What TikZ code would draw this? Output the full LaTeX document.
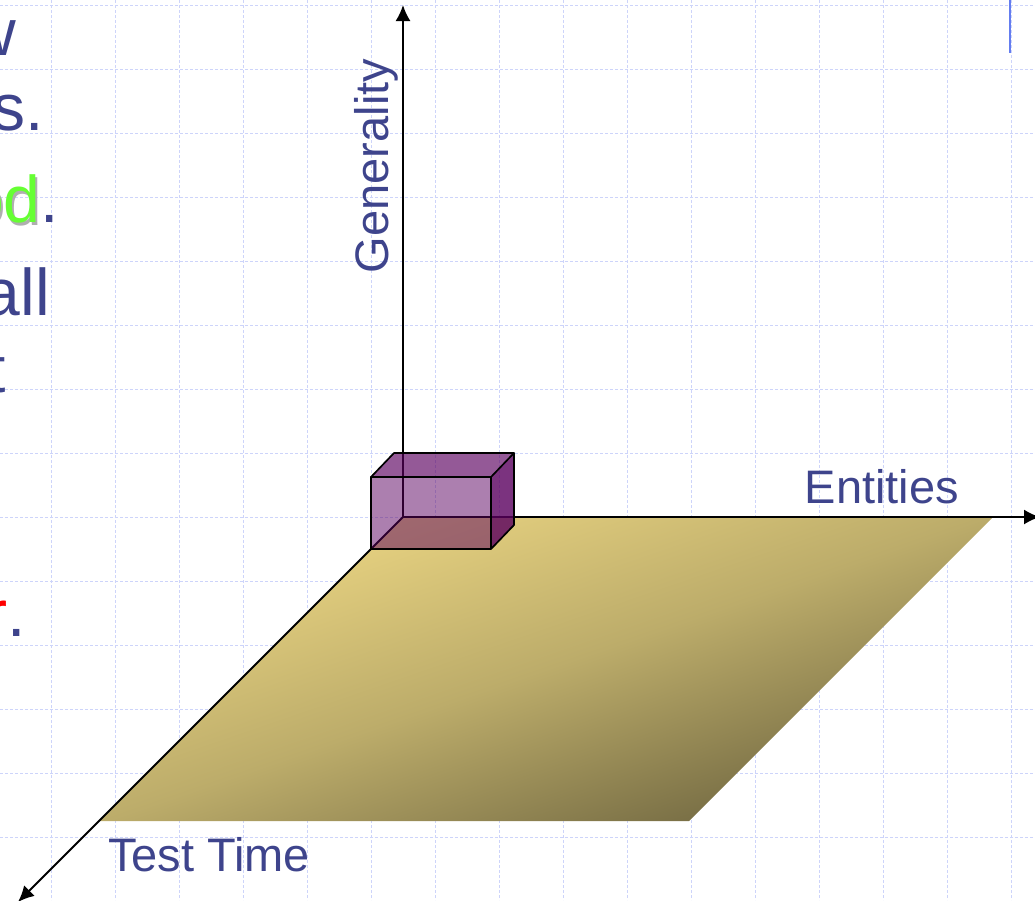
\documentclass[tikz,border=0pt]{standalone}
\usepackage{fontspec}
\setmainfont{Liberation Sans}
\usetikzlibrary{arrows.meta}
\definecolor{txtblue}{RGB}{62,68,140}
\definecolor{gridc}{RGB}{205,212,250}
\definecolor{plight}{RGB}{230,209,128}
\definecolor{pmid}{RGB}{188,172,106}
\definecolor{pdark}{RGB}{122,112,70}
\definecolor{cubec}{RGB}{90,0,95}
\definecolor{brightgreen}{RGB}{102,255,51}
\definecolor{shadowgray}{RGB}{175,175,175}
\definecolor{cursorblue}{RGB}{100,125,240}
\pgfdeclareverticalshading{planeshade}{100bp}{color(0bp)=(pdark); color(43.2bp)=(pdark); color(50bp)=(pmid); color(56.8bp)=(plight); color(100bp)=(plight)}
\begin{document}
\begin{tikzpicture}[x=1pt,y=-1pt,
  gridline/.style={gridc, line width=1pt, dash pattern=on 3pt off 2pt},
  axis/.style={line width=1.9pt, -{Latex[length=16pt,width=15pt]}},
  lbl/.style={text=txtblue, font=\fontsize{47}{56}\selectfont, inner sep=0pt},
  frag/.style={text=txtblue, font=\fontsize{66}{78}\selectfont, inner sep=0pt, anchor=base east},
  cubeedge/.style={line width=1.7pt, line join=round},
  cubeface/.style={fill=cubec},
]
\useasboundingbox (0,0) rectangle (1035,900);
% grid
\foreach \i in {0,...,15} \draw[gridline] (51+64*\i,0) -- (51+64*\i,900);
\foreach \j in {0,...,14} \draw[gridline] (0,5+64*\j) -- (1035,5+64*\j);
% plane
\coordinate (o) at (403,517);
\coordinate (pr) at (993,517);
\coordinate (pbr) at (689,821);
\coordinate (pbl) at (99,821);
\begin{scope}
  \clip (o) -- (pr) -- (pbr) -- (pbl) -- cycle;
  \shade[shading=planeshade, shading angle=19] (-236,-3) rectangle (1164,1397);
\end{scope}
% left text fragments
\node[frag] (f1) at (16,55) {w};
\node[frag] (f2) at (44,130) {s.};
\node[frag, text=shadowgray] (f3s) at (61,225) {od\phantom{.}};
\node[frag] (f3) at (59,222) {\textcolor{brightgreen}{od}.};
\node[frag] (f4) at (50,315) {all};
\node[frag] (f5) at (6,392) {t};
\node[frag] (f6) at (26,636) {\textcolor{red}{r}.};
% cursor bar
\coordinate (c1) at (1010,0);
\coordinate (c2) at (1010,53);
\draw[cursorblue, line width=2pt] (c1) -- (c2);
% axes
\coordinate (gtip) at (403,5);
\coordinate (etip) at (1040,517);
\coordinate (ttip) at (18,902);
\draw[axis] (o) -- (gtip);
\draw[axis] (o) -- (etip);
\draw[axis] (o) -- (ttip);
% cube
\coordinate (ftl) at (371,477);
\coordinate (ftr) at (491,477);
\coordinate (fbr) at (491,549);
\coordinate (fbl) at (371,549);
\coordinate (btl) at (394,453);
\coordinate (btr) at (514,453);
\coordinate (bbr) at (514,525);
\fill[cubeface, fill opacity=0.5] (ftl) -- (ftr) -- (fbr) -- (fbl) -- cycle;
\fill[cubeface, fill opacity=0.65] (ftl) -- (btl) -- (btr) -- (ftr) -- cycle;
\fill[cubeface, fill opacity=0.8] (ftr) -- (btr) -- (bbr) -- (fbr) -- cycle;
\draw[cubeedge] (ftl) -- (ftr) -- (fbr) -- (fbl) -- cycle;
\draw[cubeedge] (ftl) -- (btl) -- (btr) -- (ftr);
\draw[cubeedge] (btr) -- (bbr) -- (fbr);
% labels
\node[lbl, rotate=90, anchor=base] (gen) at (388,166) {Generality};
\node[lbl, anchor=base] (ent) at (882,503) {Entities};
\node[lbl, anchor=base] (tt) at (209,871) {Test Time};
\end{tikzpicture}
\end{document}
